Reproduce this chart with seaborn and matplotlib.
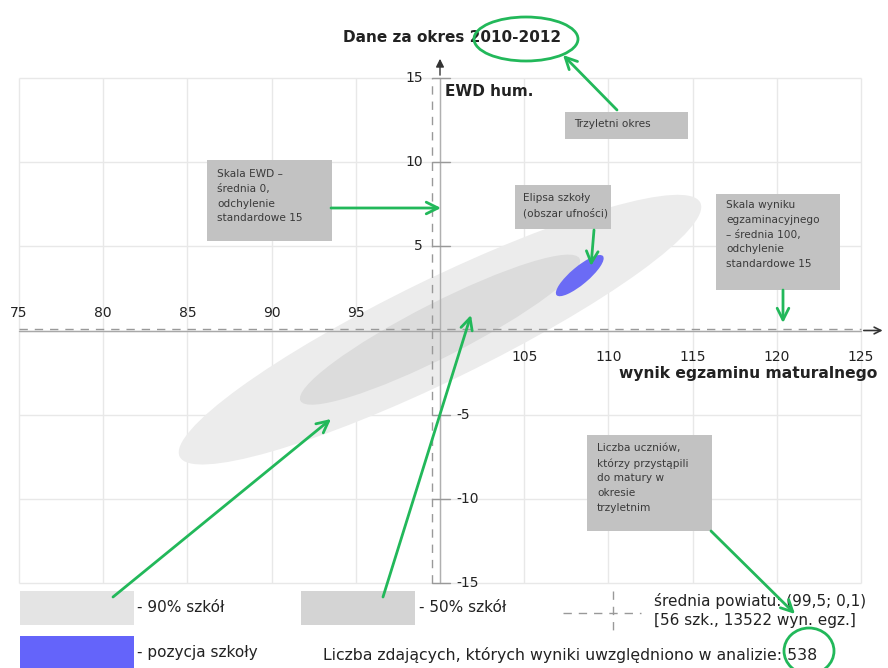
import numpy as np
import pandas as pd
import seaborn as sns
import matplotlib.pyplot as plt
from matplotlib.patches import Ellipse, Rectangle

# --- dane ---
x_ticks = [75, 80, 85, 90, 95, 100, 105, 110, 115, 120, 125]
y_ticks = [-15, -10, -5, 0, 5, 10, 15]

ell_labels = ['90% szkół', '50% szkół', 'pozycja szkoły']
ell_x = [100.0, 100.0, 108.3]
ell_y = [0.05, 0.05, 3.26]
ell_w = [34.4, 18.6, 3.6]
ell_h = [6.0, 3.2, 1.05]
ell_angle = [26.0, 27.0, 40.0]
ell_colors = ['#ececec', '#dcdcdc', '#6b6bf5']

mean_x, mean_y = 99.5, 0.1
n_schools = 56
n_results = 13522
n_students = 538
period = '2010-2012'

ellipses = pd.DataFrame({'label': ell_labels, 'x': ell_x, 'y': ell_y,
                         'w': ell_w, 'h': ell_h, 'angle': ell_angle,
                         'color': ell_colors})

# --- uklad: piksele obrazka -> wspolrzedne danych ---
PXU = 16.84
X0, Y0 = 19, 330.5          # piksel dla (75, 0)
XL = 75 - X0 / PXU
XR = XL + 888 / PXU
YT = Y0 / PXU
YB = YT - 668 / PXU


def px(x, y):
    return XL + x / PXU, YT - y / PXU


sns.set_theme(style='white')
plt.rcParams['font.family'] = ['DejaVu Sans']

fig = plt.figure(figsize=(8.88, 6.68), dpi=100)
ax = fig.add_axes([0, 0, 1, 1])
ax.set_xlim(XL, XR)
ax.set_ylim(YB, YT)
ax.axis('off')

green = '#22b85a'
txt = '#222222'

# siatka
ax.vlines(x_ticks, -15, 15, color='#e8e8e8', lw=1, zorder=0)
ax.hlines(y_ticks, 75, 125, color='#e8e8e8', lw=1, zorder=0)

# elipsy
for _, r in ellipses.iterrows():
    ax.add_patch(Ellipse((r['x'], r['y']), r['w'], r['h'], angle=r['angle'],
                         facecolor=r['color'], edgecolor='none', zorder=1))

# osie
ax.plot([100, 100], [-15, 15], color='#b0b0b0', lw=1, zorder=2)
ax.plot([75, 125], [0, 0], color='#a8a8a8', lw=1, zorder=2)
ax.plot([mean_x, mean_x], [-15, 15], color='#999999', lw=1, ls=(0, (6, 5)), zorder=2)
ax.plot([75, 125], [mean_y, mean_y], color='#999999', lw=1, ls=(0, (6, 5)), zorder=2)
ax.annotate('', xy=(100, 16.3), xytext=(100, 15),
            arrowprops=dict(arrowstyle='-|>', color='#333333', lw=1, mutation_scale=12))
ax.annotate('', xy=(126.45, 0), xytext=(125, 0),
            arrowprops=dict(arrowstyle='->', color='#333333', lw=1.2, mutation_scale=12))
for yt in y_ticks:
    if yt != 0:
        ax.plot([mean_x, 100.6], [yt, yt], color='#999999', lw=1, zorder=2)

# etykiety osi
for xt in x_ticks:
    if xt < 100:
        ax.text(xt, 1.05, str(xt), ha='center', va='center', fontsize=10, color=txt)
    elif xt > 100:
        ax.text(xt, -1.6, str(xt), ha='center', va='center', fontsize=10, color=txt)
for yt in y_ticks:
    if yt > 0:
        ax.text(99.0, yt, str(yt), ha='right', va='center', fontsize=10, color=txt)
    elif yt < 0:
        ax.text(101.0, yt, str(yt), ha='left', va='center', fontsize=10, color=txt)

ax.text(*px(445, 92), 'EWD hum.', ha='left', va='center', fontsize=11,
        fontweight='bold', color=txt)
ax.text(*px(877, 373), 'wynik egzaminu maturalnego', ha='right', va='center',
        fontsize=11.2, fontweight='bold', color=txt)
ax.text(*px(452, 37), f'Dane za okres {period}', ha='center', va='center',
        fontsize=11, fontweight='bold', color=txt)

# ramki z opisami
boxes = [
    ((207, 160, 332, 241), (217, 176), 'Skala EWD –\nśrednia 0,\nodchylenie\nstandardowe 15'),
    ((515, 185, 611, 229), (523, 200), 'Elipsa szkoły\n(obszar ufności)'),
    ((716, 194, 840, 290), (726, 207), 'Skala wyniku\negzaminacyjnego\n– średnia 100,\nodchylenie\nstandardowe 15'),
    ((587, 435, 712, 531), (597, 450), 'Liczba uczniów,\nktórzy przystąpili\ndo matury w\nokresie\ntrzyletnim'),
    ((565, 112, 688, 139), (574, 126), 'Trzyletni okres'),
]
for (x1, y1, x2, y2), (tx, ty), label in boxes:
    bx, by = px(x1, y2)
    ax.add_patch(Rectangle((bx, by), (x2 - x1) / PXU, (y2 - y1) / PXU,
                           facecolor='#c2c2c2', edgecolor='none', zorder=4))
    ax.text(*px(tx, ty - 7), label, ha='left', va='top', fontsize=7.6, color='#3a3a3a',
            linespacing=1.6, zorder=5)

# zielone strzalki
arrows = [
    ((331, 208), (441, 208)),
    ((594, 230), (591, 266)),
    ((783, 290), (783, 323)),
    ((617, 110), (563, 55)),
    ((711, 531), (795, 614)),
    ((113, 597), (331, 419)),
    ((383, 597), (471, 315)),
]
for (sx, sy), (ex, ey) in arrows:
    ax.annotate('', xy=px(ex, ey), xytext=px(sx, sy),
                arrowprops=dict(arrowstyle='->,head_length=0.7,head_width=0.35',
                                color=green, lw=2, shrinkA=0, shrinkB=0), zorder=6)

# zielone kola
for (cx, cy, w, h) in [(526, 39, 104, 44), (809, 651, 50, 46)]:
    ax.add_patch(Ellipse(px(cx, cy), w / PXU, h / PXU, facecolor='none',
                         edgecolor=green, lw=2, zorder=6))

# legenda
leg = [((20, 591, 134, 625), (137, 607), '- ' + ell_labels[0]),
       ((301, 591, 415, 625), (419, 607), '- ' + ell_labels[1]),
       ((20, 636, 134, 668), (137, 653), '- ' + ell_labels[2])]
leg_fc = ['#e4e4e4', '#d4d4d4', '#6464fa']
for ((x1, y1, x2, y2), (tx, ty), label), fc in zip(leg, leg_fc):
    bx, by = px(x1, y2)
    ax.add_patch(Rectangle((bx, by), (x2 - x1) / PXU, (y2 - y1) / PXU,
                           facecolor=fc, edgecolor='none', zorder=4))
    ax.text(*px(tx, ty), label, ha='left', va='center', fontsize=11, color=txt)

ax.plot(*zip(px(563, 613), px(641, 613)), color='#999999', lw=1, ls=(0, (6, 5)))
ax.plot(*zip(px(613, 591), px(613, 635)), color='#999999', lw=1, ls=(0, (6, 5)))
ax.text(*px(654, 601), f'średnia powiatu: ({mean_x:.1f}; {mean_y:.1f})'.replace('.', ','),
        ha='left', va='center', fontsize=11, color=txt)
ax.text(*px(654, 620), f'[{n_schools} szk., {n_results} wyn. egz.]',
        ha='left', va='center', fontsize=11, color=txt)
ax.text(*px(323, 655), f'Liczba zdających, których wyniki uwzględniono w analizie: {n_students}',
        ha='left', va='center', fontsize=11.3, color=txt)

fig.savefig('out.png', dpi=100)
